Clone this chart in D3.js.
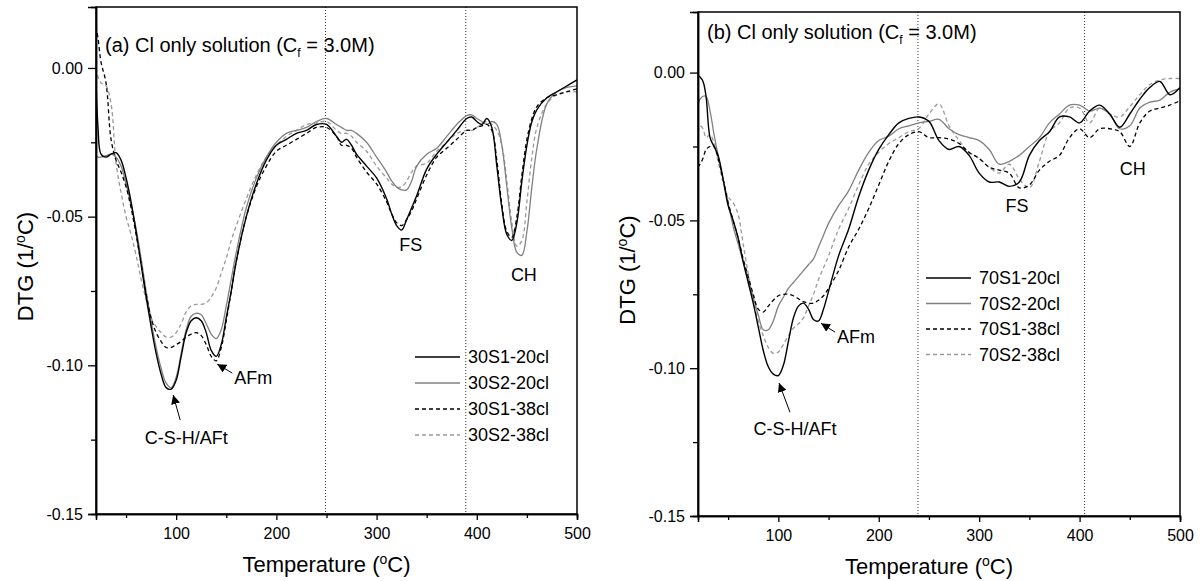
<!DOCTYPE html>
<html>
<head>
<meta charset="utf-8">
<script src="https://cdn.jsdelivr.net/npm/d3@7"></script>
<style>
  body { margin: 0; background: #fff; }
  svg { font-family: "Liberation Sans", Arial, sans-serif; }
</style>
</head>
<body>
<svg id="chart" width="1202" height="581"></svg>
<script>
// ---- data ----
var tempA = [20, 22, 25, 30, 35, 40, 45, 50, 55, 60, 65, 70, 75, 80, 85, 90, 95, 100, 105, 110, 115, 120, 125, 130, 135, 140, 145, 150, 155, 160, 170, 180, 190, 200, 210, 220, 230, 240, 250, 260, 265, 270, 275, 280, 290, 300, 310, 315, 320, 325, 330, 335, 340, 350, 360, 370, 380, 390, 395, 400, 405, 410, 415, 420, 425, 430, 435, 440, 445, 450, 455, 460, 470, 480, 490, 500];

var a30S1_20 = [-0.004, -0.02, -0.029, -0.030, -0.029, -0.0285, -0.031, -0.037, -0.045, -0.055, -0.066, -0.077, -0.087, -0.096, -0.103, -0.1075, -0.108, -0.105, -0.097, -0.089, -0.085, -0.084, -0.085, -0.089, -0.095, -0.097, -0.093, -0.084, -0.075, -0.065, -0.050, -0.039, -0.031, -0.026, -0.024, -0.022, -0.021, -0.019, -0.019, -0.023, -0.025, -0.024, -0.026, -0.029, -0.033, -0.037, -0.044, -0.049, -0.053, -0.0545, -0.051, -0.047, -0.043, -0.034, -0.029, -0.025, -0.021, -0.017, -0.0165, -0.018, -0.019, -0.017, -0.020, -0.033, -0.047, -0.056, -0.058, -0.052, -0.038, -0.026, -0.018, -0.014, -0.010, -0.008, -0.006, -0.004];

var a30S2_20 = [-0.0295, -0.030, -0.030, -0.0295, -0.029, -0.030, -0.033, -0.039, -0.046, -0.054, -0.064, -0.075, -0.085, -0.094, -0.101, -0.106, -0.1075, -0.104, -0.096, -0.088, -0.0835, -0.0825, -0.083, -0.086, -0.0895, -0.091, -0.088, -0.080, -0.071, -0.062, -0.047, -0.037, -0.030, -0.025, -0.022, -0.021, -0.020, -0.018, -0.017, -0.019, -0.020, -0.021, -0.021, -0.022, -0.025, -0.030, -0.035, -0.038, -0.040, -0.041, -0.041, -0.038, -0.033, -0.029, -0.027, -0.023, -0.019, -0.016, -0.0158, -0.017, -0.018, -0.019, -0.018, -0.019, -0.026, -0.040, -0.054, -0.062, -0.063, -0.055, -0.040, -0.027, -0.012, -0.008, -0.0065, -0.006];

var a30S1_38 = [0.014, 0.010, 0.002, -0.005, -0.024, -0.031, -0.035, -0.040, -0.047, -0.056, -0.066, -0.076, -0.084, -0.089, -0.092, -0.094, -0.094, -0.093, -0.092, -0.0905, -0.0895, -0.089, -0.090, -0.093, -0.097, -0.0985, -0.094, -0.085, -0.075, -0.065, -0.050, -0.040, -0.033, -0.028, -0.026, -0.024, -0.022, -0.020, -0.020, -0.023, -0.026, -0.026, -0.027, -0.030, -0.035, -0.039, -0.045, -0.049, -0.052, -0.053, -0.051, -0.048, -0.044, -0.036, -0.030, -0.027, -0.024, -0.021, -0.021, -0.020, -0.0195, -0.019, -0.021, -0.031, -0.046, -0.055, -0.057, -0.050, -0.036, -0.024, -0.017, -0.013, -0.010, -0.009, -0.008, -0.007];

var a30S2_38 = [0.0, -0.003, -0.005, -0.006, -0.012, -0.032, -0.042, -0.050, -0.056, -0.063, -0.071, -0.078, -0.084, -0.087, -0.089, -0.0905, -0.0905, -0.089, -0.086, -0.082, -0.080, -0.0795, -0.0795, -0.079, -0.077, -0.074, -0.069, -0.064, -0.058, -0.053, -0.044, -0.036, -0.030, -0.026, -0.023, -0.021, -0.019, -0.0185, -0.018, -0.021, -0.022, -0.022, -0.023, -0.025, -0.028, -0.033, -0.037, -0.039, -0.040, -0.040, -0.038, -0.035, -0.033, -0.032, -0.028, -0.025, -0.022, -0.021, -0.021, -0.020, -0.019, -0.018, -0.019, -0.021, -0.026, -0.038, -0.052, -0.060, -0.058, -0.045, -0.030, -0.020, -0.012, -0.009, -0.008, -0.008];

var tempB = [20, 22, 25, 28, 32, 36, 40, 45, 50, 55, 60, 65, 70, 75, 80, 85, 90, 95, 100, 105, 110, 115, 120, 125, 130, 135, 140, 145, 150, 160, 170, 180, 190, 200, 210, 220, 230, 240, 250, 260, 270, 280, 290, 300, 310, 320, 330, 340, 350, 360, 370, 380, 390, 400, 410, 420, 430, 440, 450, 460, 470, 480, 490, 500];

var b70S1_20 = [-0.001, -0.0015, -0.003, -0.008, -0.022, -0.025, -0.028, -0.036, -0.045, -0.050, -0.056, -0.064, -0.071, -0.078, -0.086, -0.094, -0.0995, -0.102, -0.1025, -0.099, -0.091, -0.083, -0.079, -0.078, -0.080, -0.0835, -0.084, -0.080, -0.074, -0.062, -0.053, -0.042, -0.033, -0.026, -0.021, -0.017, -0.0155, -0.015, -0.0165, -0.023, -0.026, -0.025, -0.028, -0.034, -0.037, -0.037, -0.0385, -0.037, -0.028, -0.023, -0.020, -0.015, -0.015, -0.017, -0.013, -0.011, -0.014, -0.0185, -0.014, -0.009, -0.005, -0.003, -0.0075, -0.005];

var b70S2_20 = [-0.011, -0.009, -0.008, -0.008, -0.013, -0.021, -0.028, -0.036, -0.044, -0.052, -0.058, -0.064, -0.070, -0.076, -0.082, -0.087, -0.087, -0.084, -0.079, -0.076, -0.073, -0.071, -0.069, -0.067, -0.065, -0.063, -0.059, -0.055, -0.051, -0.045, -0.040, -0.033, -0.027, -0.023, -0.0215, -0.019, -0.018, -0.017, -0.0165, -0.0158, -0.019, -0.021, -0.022, -0.023, -0.026, -0.031, -0.030, -0.028, -0.025, -0.022, -0.017, -0.014, -0.011, -0.011, -0.013, -0.012, -0.014, -0.019, -0.018, -0.012, -0.010, -0.0093, -0.0066, -0.0055];

var b70S1_38 = [-0.032, -0.031, -0.029, -0.026, -0.025, -0.025, -0.029, -0.036, -0.044, -0.050, -0.056, -0.063, -0.069, -0.075, -0.080, -0.081, -0.079, -0.077, -0.0755, -0.075, -0.075, -0.0755, -0.0765, -0.0775, -0.078, -0.078, -0.077, -0.0755, -0.073, -0.067, -0.059, -0.053, -0.046, -0.038, -0.030, -0.024, -0.021, -0.020, -0.022, -0.022, -0.0225, -0.024, -0.027, -0.029, -0.032, -0.033, -0.034, -0.039, -0.038, -0.033, -0.030, -0.028, -0.022, -0.019, -0.022, -0.019, -0.019, -0.020, -0.025, -0.017, -0.013, -0.012, -0.011, -0.0095];

var b70S2_38 = [-0.020, -0.018, -0.019, -0.022, -0.021, -0.024, -0.030, -0.037, -0.042, -0.044, -0.048, -0.058, -0.068, -0.077, -0.084, -0.089, -0.093, -0.095, -0.0945, -0.092, -0.089, -0.0865, -0.085, -0.083, -0.079, -0.075, -0.070, -0.066, -0.062, -0.053, -0.046, -0.038, -0.031, -0.027, -0.024, -0.022, -0.020, -0.0189, -0.014, -0.0106, -0.018, -0.023, -0.027, -0.029, -0.032, -0.034, -0.031, -0.036, -0.039, -0.030, -0.020, -0.017, -0.012, -0.012, -0.017, -0.012, -0.014, -0.015, -0.0115, -0.0075, -0.004, -0.0025, -0.002, -0.002];

var namesA = ["30S1-20cl", "30S2-20cl", "30S1-38cl", "30S2-38cl"];
var namesB = ["70S1-20cl", "70S2-20cl", "70S1-38cl", "70S2-38cl"];
var yTicks = [0, -0.05, -0.10, -0.15];
var xTicks = [100, 200, 300, 400, 500];

// line styles for the four series (same order in both panels)
var styles = [
  { color: "#000", dash: null, width: 1.4 },
  { color: "#808080", dash: null, width: 1.3 },
  { color: "#000", dash: "4,3", width: 1.3 },
  { color: "#9a9a9a", dash: "4,3", width: 1.3 }
];

var svg = d3.select("#chart");

svg.append("defs").append("marker")
  .attr("id", "arrow")
  .attr("viewBox", "0 0 10 10")
  .attr("refX", 10).attr("refY", 5)
  .attr("markerWidth", 9).attr("markerHeight", 9)
  .attr("markerUnits", "userSpaceOnUse")
  .attr("orient", "auto")
  .append("path").attr("d", "M0,0 L10,5 L0,10 Z").attr("fill", "#000");

function drawPanel(p) {
  var x = d3.scaleLinear().domain([20, 500]).range([p.left, p.right]);
  var y = d3.scaleLinear().domain([-0.15, 0.0205]).range([p.bottom, p.top]);
  var g = svg.append("g");

  var clipId = "clip" + p.id;
  svg.select("defs").append("clipPath").attr("id", clipId)
    .append("rect").attr("x", p.left).attr("y", p.top)
    .attr("width", p.right - p.left).attr("height", p.bottom - p.top);

  // dotted guide lines
  p.guides.forEach(function(t) {
    g.append("line")
      .attr("x1", x(t)).attr("x2", x(t))
      .attr("y1", p.top).attr("y2", p.bottom)
      .attr("stroke", "#333").attr("stroke-width", 1)
      .attr("stroke-dasharray", "1,2");
  });

  // curves
  var line = d3.line()
    .x(function(d) { return x(d[0]); })
    .y(function(d) { return y(d[1]); })
    .curve(d3.curveCatmullRom.alpha(0.5));

  var lines = g.append("g").attr("clip-path", "url(#" + clipId + ")");
  // draw gray ones first so black stays on top
  [3, 1, 2, 0].forEach(function(i) {
    var pts = p.temps.map(function(t, k) { return [t, p.series[i][k]]; });
    lines.append("path")
      .attr("d", line(pts))
      .attr("fill", "none")
      .attr("stroke", styles[i].color)
      .attr("stroke-width", styles[i].width)
      .attr("stroke-dasharray", styles[i].dash);
  });

  // frame
  g.append("rect")
    .attr("x", p.left).attr("y", p.top)
    .attr("width", p.right - p.left).attr("height", p.bottom - p.top)
    .attr("fill", "none").attr("stroke", "#000").attr("stroke-width", 1.5);

  // axes
  var xAxis = g.append("g").attr("transform", "translate(0," + p.bottom + ")")
    .call(d3.axisBottom(x).tickValues(xTicks).tickSize(6).tickPadding(8));
  g.append("g").attr("transform", "translate(0," + p.bottom + ")")
    .call(d3.axisBottom(x).tickValues([50, 150, 250, 350, 450]).tickSize(4).tickFormat(""));
  var yAxis = g.append("g").attr("transform", "translate(" + p.left + ",0)")
    .call(d3.axisLeft(y).tickValues(yTicks).tickSize(8).tickPadding(5).tickFormat(d3.format(".2f")));
  g.append("g").attr("transform", "translate(" + p.left + ",0)")
    .call(d3.axisLeft(y).tickValues([-0.025, -0.075, -0.125]).tickSize(5).tickFormat(""));

  g.selectAll(".domain").attr("stroke", "#000").attr("stroke-width", 1.5);
  g.selectAll(".tick line").attr("stroke", "#000").attr("stroke-width", 1.3);
  g.selectAll(".tick text").attr("font-size", 16).attr("fill", "#000")
    .attr("font-family", "Liberation Sans, Arial, sans-serif");
  yAxis.selectAll(".tick text").text(function(d) { return d3.format(".2f")(d).replace("−", "-"); });

  // axis titles
  var xt = g.append("text")
    .attr("x", (p.left + p.right) / 2 - 10).attr("y", p.bottom + 58)
    .attr("text-anchor", "middle").attr("font-size", 22);
  xt.append("tspan").text("Temperature (");
  xt.append("tspan").attr("font-size", 14).attr("dy", -8).text("o");
  xt.append("tspan").attr("dy", 8).text("C)");

  var yt = g.append("text")
    .attr("transform", "translate(" + (p.left - 63) + "," + ((p.top + p.bottom) / 2 + 6) + ") rotate(-90)")
    .attr("text-anchor", "middle").attr("font-size", 22);
  yt.append("tspan").text("DTG (1/");
  yt.append("tspan").attr("font-size", 14).attr("dy", -8).text("o");
  yt.append("tspan").attr("dy", 8).text("C)");

  // panel title
  var tt = g.append("text").attr("x", p.left + 9).attr("y", p.titleY).attr("font-size", 20);
  tt.append("tspan").text(p.label + " Cl only solution (C");
  tt.append("tspan").attr("font-size", 12).attr("dy", 5).text("f");
  tt.append("tspan").attr("dy", -5).text(" = 3.0M)");

  // peak labels and arrows
  p.notes.forEach(function(n) {
    g.append("text")
      .attr("x", x(n.t)).attr("y", y(n.v)).attr("dy", "0.35em")
      .attr("text-anchor", n.anchor).attr("font-size", 18)
      .text(n.text);
  });
  p.arrows.forEach(function(a) {
    g.append("line")
      .attr("x1", x(a[0])).attr("y1", y(a[1]))
      .attr("x2", x(a[2])).attr("y2", y(a[3]))
      .attr("stroke", "#000").attr("stroke-width", 1)
      .attr("marker-end", "url(#arrow)");
  });

  // legend
  p.names.forEach(function(name, i) {
    var ly = p.legY + i * p.legStep;
    g.append("line")
      .attr("x1", p.legX).attr("x2", p.legX + 45)
      .attr("y1", ly).attr("y2", ly)
      .attr("stroke", styles[i].color).attr("stroke-width", styles[i].width)
      .attr("stroke-dasharray", styles[i].dash);
    g.append("text")
      .attr("x", p.legX + 53).attr("y", ly).attr("dy", "0.35em")
      .attr("font-size", 18).text(name);
  });
}

drawPanel({
  id: "a", left: 96, right: 577, top: 7, bottom: 514,
  temps: tempA, series: [a30S1_20, a30S2_20, a30S1_38, a30S2_38], names: namesA,
  guides: [249, 389], label: "(a)", titleY: 52,
  legX: 415, legY: 357, legStep: 26,
  notes: [
    { text: "C-S-H/AFt", t: 110, v: -0.1245, anchor: "middle" },
    { text: "AFm", t: 158, v: -0.104, anchor: "start" },
    { text: "FS", t: 334, v: -0.0595, anchor: "middle" },
    { text: "CH", t: 447, v: -0.0696, anchor: "middle" }
  ],
  arrows: [[104, -0.1184, 97, -0.110], [156, -0.1026, 141, -0.0996]]
});

drawPanel({
  id: "b", left: 698, right: 1180, top: 12, bottom: 516,
  temps: tempB, series: [b70S1_20, b70S2_20, b70S1_38, b70S2_38], names: namesB,
  guides: [239, 405], label: "(b)", titleY: 39,
  legX: 926, legY: 278, legStep: 25.5,
  notes: [
    { text: "C-S-H/AFt", t: 116.6, v: -0.1203, anchor: "middle" },
    { text: "AFm", t: 158.4, v: -0.0895, anchor: "start" },
    { text: "FS", t: 337.7, v: -0.0449, anchor: "middle" },
    { text: "CH", t: 453, v: -0.0324, anchor: "middle" }
  ],
  arrows: [[111.6, -0.1149, 100.7, -0.105], [156.5, -0.0878, 142.5, -0.0848]]
});
</script>
</body>
</html>
